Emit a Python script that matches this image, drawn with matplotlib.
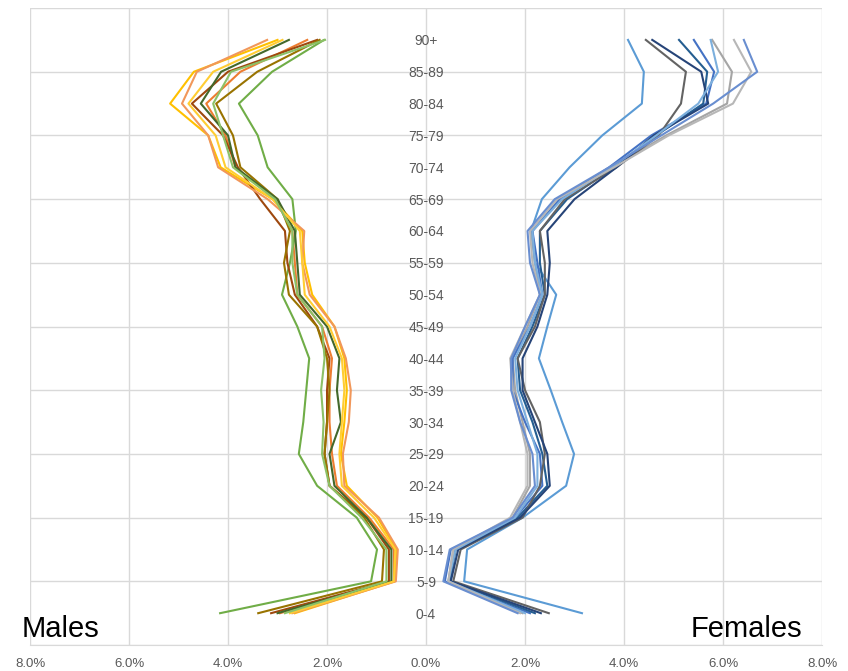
import matplotlib
matplotlib.use("Agg")
import matplotlib.pyplot as plt
from matplotlib.ticker import FuncFormatter, MultipleLocator

ages = ["0-4", "5-9", "10-14", "15-19", "20-24", "25-29", "30-34", "35-39", "40-44",
        "45-49", "50-54", "55-59", "60-64", "65-69", "70-74", "75-79", "80-84", "85-89", "90+"]

# male shares (%), bottom age group first
m_orange = [2.95, 0.65, 0.65, 1.15, 1.80, 1.90, 1.95, 1.95, 1.90, 2.10, 2.60, 2.65, 2.70, 3.05, 3.85, 4.05, 4.44, 3.75, 2.40]
m_gold = [2.65, 0.63, 0.60, 0.98, 1.60, 1.72, 1.65, 1.60, 1.65, 1.85, 2.30, 2.45, 2.50, 3.10, 4.15, 4.40, 5.17, 4.69, 3.00]
m_green = [4.16, 1.11, 0.99, 1.40, 2.20, 2.57, 2.48, 2.42, 2.36, 2.60, 2.91, 2.75, 2.63, 2.70, 3.20, 3.40, 3.78, 3.11, 2.06]
m_dorange = [3.13, 0.75, 0.75, 1.20, 1.95, 2.05, 2.00, 2.00, 1.95, 2.20, 2.65, 2.80, 2.85, 3.35, 3.80, 4.10, 4.73, 4.00, 2.20]
m_dgold = [3.39, 0.89, 0.85, 1.25, 1.95, 2.05, 2.00, 1.95, 2.00, 2.20, 2.77, 2.87, 2.75, 3.00, 3.75, 3.90, 4.24, 3.41, 2.15]
m_dgreen = [3.00, 0.70, 0.70, 1.20, 1.85, 1.95, 1.72, 1.80, 1.75, 2.00, 2.55, 2.60, 2.65, 3.00, 3.85, 4.00, 4.55, 4.14, 2.77]
m_lorange = [2.70, 0.61, 0.57, 0.95, 1.65, 1.68, 1.56, 1.52, 1.62, 1.85, 2.35, 2.50, 2.46, 3.20, 4.20, 4.40, 4.93, 4.63, 3.21]
m_lgold = [2.75, 0.65, 0.62, 1.05, 1.70, 1.75, 1.70, 1.65, 1.70, 1.95, 2.45, 2.50, 2.55, 3.10, 4.05, 4.25, 4.80, 4.30, 2.90]
m_lgreen = [2.85, 0.80, 0.80, 1.30, 1.95, 2.10, 2.07, 2.12, 2.05, 2.10, 2.60, 2.70, 2.70, 3.05, 3.90, 4.10, 4.30, 3.94, 2.04]

# female shares (%)
f_blue = [3.15, 0.77, 0.83, 1.95, 2.83, 2.99, 2.75, 2.52, 2.28, 2.45, 2.63, 2.20, 2.12, 2.34, 2.90, 3.56, 4.36, 4.40, 4.08]
f_gray = [1.95, 0.45, 0.55, 1.75, 2.10, 2.10, 1.95, 1.80, 1.75, 2.05, 2.30, 2.20, 2.15, 2.70, 3.75, 4.85, 6.08, 6.18, 5.78]
f_blue2 = [2.10, 0.38, 0.50, 1.80, 2.35, 2.30, 2.00, 1.75, 1.75, 2.10, 2.35, 2.25, 2.15, 2.70, 3.70, 4.55, 5.66, 5.82, 5.41]
f_dblue = [2.20, 0.48, 0.60, 1.85, 2.45, 2.35, 2.15, 1.90, 1.85, 2.15, 2.40, 2.30, 2.30, 2.85, 3.80, 4.65, 5.60, 5.68, 5.11]
f_dgray = [2.48, 0.55, 0.70, 1.95, 2.30, 2.40, 2.30, 2.00, 1.85, 2.20, 2.40, 2.40, 2.30, 2.80, 3.85, 4.70, 5.15, 5.25, 4.44]
f_dblue2 = [2.32, 0.50, 0.65, 1.90, 2.50, 2.45, 2.20, 1.95, 1.95, 2.25, 2.45, 2.50, 2.45, 3.00, 3.85, 4.60, 5.70, 5.56, 4.57]
f_lblue = [2.00, 0.45, 0.60, 1.80, 2.25, 2.25, 2.05, 1.85, 1.80, 2.10, 2.35, 2.20, 2.15, 2.75, 3.75, 4.65, 5.50, 5.90, 5.75]
f_lgray = [1.90, 0.45, 0.55, 1.70, 2.05, 2.05, 1.90, 1.75, 1.70, 2.00, 2.30, 2.15, 2.10, 2.65, 3.80, 4.90, 6.20, 6.57, 6.22]
f_lblue2 = [1.85, 0.35, 0.48, 1.75, 2.20, 2.15, 1.90, 1.72, 1.72, 2.00, 2.30, 2.10, 2.05, 2.60, 3.70, 4.75, 5.80, 6.69, 6.42]

males = [(m_orange, "#ED7D31"), (m_gold, "#FFC000"), (m_green, "#70AD47"),
         (m_dorange, "#9E480E"), (m_dgold, "#997300"), (m_dgreen, "#43682B"),
         (m_lorange, "#F1975A"), (m_lgold, "#FFCD33"), (m_lgreen, "#8CC168")]
females = [(f_blue, "#5B9BD5"), (f_gray, "#A5A5A5"), (f_blue2, "#4472C4"),
           (f_dblue, "#255E91"), (f_dgray, "#636363"), (f_dblue2, "#264478"),
           (f_lblue, "#7CAFDD"), (f_lgray, "#B7B7B7"), (f_lblue2, "#698ED0")]

plt.rcParams["font.family"] = ["Liberation Sans", "DejaVu Sans"]

fig = plt.figure(figsize=(8.48, 6.71), dpi=100)
ax = fig.add_axes([0.0354, 0.0387, 0.9340, 0.9493])

ypos = list(range(1, len(ages) + 1))
for vals, c in females:
    ax.plot(vals, ypos, color=c, lw=1.5)
for vals, c in males:
    ax.plot([-v for v in vals], ypos, color=c, lw=1.5)

for y, lab in zip(ypos, ages):
    ax.text(0, y, lab, ha="center", va="center_baseline", fontsize=10, color="#595959")

ax.set_xlim(-8, 8)
ax.set_ylim(0, 20)
ax.xaxis.set_major_locator(MultipleLocator(2))
ax.yaxis.set_major_locator(MultipleLocator(2))
ax.xaxis.set_major_formatter(FuncFormatter(lambda v, p: f"{abs(v):.1f}%"))
ax.set_yticklabels([])
ax.grid(True, color="#D9D9D9", lw=1)
ax.set_axisbelow(True)
ax.tick_params(length=0, labelsize=9.5, labelcolor="#595959", pad=9)
for s in ["top", "right", "left"]:
    ax.spines[s].set_visible(False)
ax.spines["bottom"].set_color("#D9D9D9")

fig.text(0.026, 0.062, "Males", fontsize=21, ha="left", va="center")
fig.text(0.946, 0.062, "Females", fontsize=21, ha="right", va="center")

fig.savefig("out.png", dpi=100)
